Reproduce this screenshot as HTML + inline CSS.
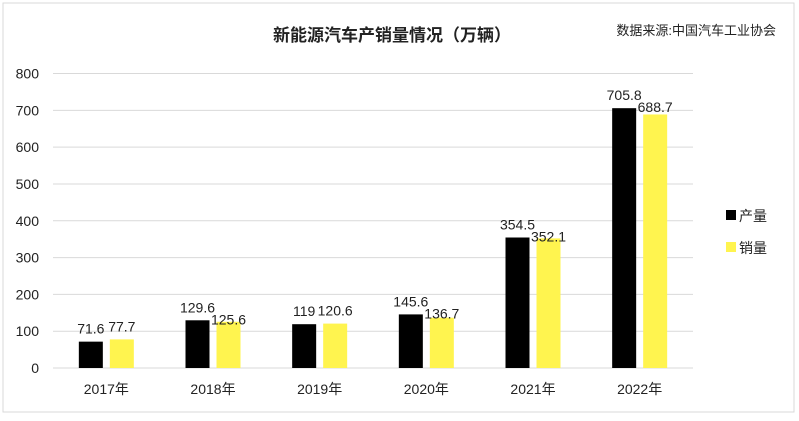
<!DOCTYPE html>
<html><head><meta charset="utf-8"><style>
html,body{margin:0;padding:0;background:#fff;}
svg text{font-family:"Liberation Sans","Noto Sans CJK SC",sans-serif;}
</style></head><body>
<svg width="799" height="416" viewBox="0 0 799 416">
<rect x="3" y="3" width="791" height="409" fill="#fff" stroke="#d9d9d9"/>
<text x="392" y="41" text-anchor="middle" font-size="17" font-weight="bold" fill="#222">新能源汽车产销量情况（万辆）</text>
<text x="776" y="35" text-anchor="end" font-size="13" fill="#222">数据来源:中国汽车工业协会</text>
<g id="grid"></g><g id="bars"></g>
<rect x="726" y="210" width="10" height="10" fill="#000"/>
<text x="739" y="221" font-size="14" fill="#222">产量</text>
<rect x="726" y="242" width="10" height="10" fill="#fff44f"/>
<text x="739" y="253" font-size="14" fill="#222">销量</text>
</svg>
<script>
const categories=["2017年","2018年","2019年","2020年","2021年","2022年"];
const production=[71.6,129.6,119,145.6,354.5,705.8];
const sales=[77.7,125.6,120.6,136.7,352.1,688.7];
const yTicks=[0,100,200,300,400,500,600,700,800];
const NS="http://www.w3.org/2000/svg";
const x0=53,x1=693,y0=368,yTop=73.5,yMax=800;
const y=v=>y0-(v/yMax)*(y0-yTop);
const bw=(x1-x0)/categories.length;
const cx=i=>x0+bw*(i+0.5);
function mk(tag,attrs,parent){const e=document.createElementNS(NS,tag);for(const k in attrs)e.setAttribute(k,attrs[k]);parent.appendChild(e);return e;}
const g=document.getElementById('grid'),b=document.getElementById('bars');
yTicks.forEach(t=>{
 const l=mk('line',{x1:x0,x2:x1,y1:y(t),y2:y(t),stroke:'#d9d9d9','stroke-width':1},g);
 
 
 const tx=mk('text',{x:39,y:y(t)+5,'text-anchor':'end','font-size':14,fill:'#222'},g);
 tx.textContent=t;
 
 
});
categories.forEach((c,i)=>{
 const r1=mk('rect',{x:cx(i)-27.5,y:y(production[i]),width:24,height:y0-y(production[i]),fill:'#000'},b);
 
 
 const r2=mk('rect',{x:cx(i)+3.5,y:y(sales[i]),width:24,height:y0-y(sales[i]),fill:'#fff44f'},b);
 
 
 const l1=mk('text',{x:cx(i)-15.5,y:y(production[i])-8,'text-anchor':'middle','font-size':14,fill:'#222'},b);
 l1.textContent=production[i];
 
 
 const l2=mk('text',{x:cx(i)+15.5,y:y(Math.max(sales[i],production[i]))-8+(sales[i]<production[i]?12:0),'text-anchor':'middle','font-size':14,fill:'#222'},b);
 l2.textContent=sales[i];
 
 
 const xl=mk('text',{x:cx(i),y:394,'text-anchor':'middle','font-size':14,fill:'#222'},b);
 xl.textContent=c;
 
 
});
</script>
</body></html>
